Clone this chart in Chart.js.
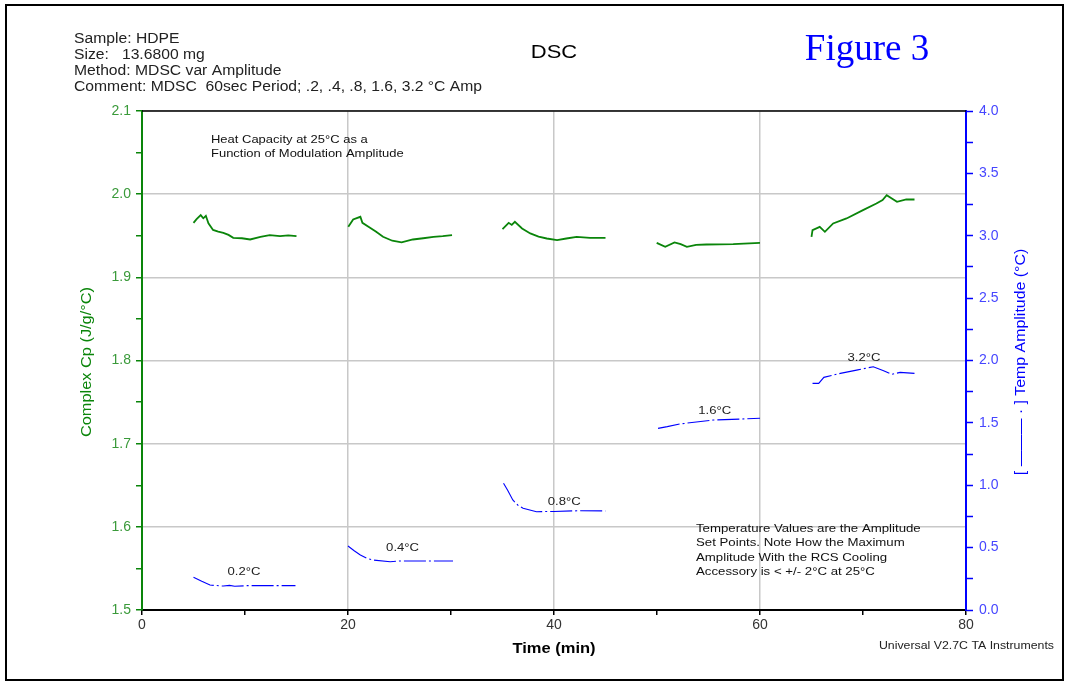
<!DOCTYPE html>
<html>
<head>
<meta charset="utf-8">
<script src="https://cdn.jsdelivr.net/npm/chart.js@4.4.0/dist/chart.umd.min.js"></script>
<style>
  html, body { margin: 0; padding: 0; background: #fff; }
  #wrap { position: relative; width: 1070px; height: 683px; }
  canvas { position: absolute; left: 0; top: 0; }
</style>
</head>
<body>
<div id="wrap"><canvas id="dsc" width="1070" height="683"></canvas></div>
<script>
// Complex Cp (left axis), five runs separated by null
const cpTime = [5.0, 5.3, 5.7, 5.95, 6.2, 6.45, 6.9, 7.4, 7.9, 8.4, 8.86, 9.7, 10.5, 11.5, 12.4, 13.4, 14.2, 15.0, null,
  20.03, 20.5, 21.2, 21.4, 22.1, 22.7, 23.4, 24.3, 25.2, 26.3, 27.3, 28.3, 29.2, 30.1, null,
  35.0, 35.6, 35.9, 36.2, 36.9, 37.7, 38.5, 39.3, 40.3, 41.2, 42.2, 43.5, 45.0, null,
  49.97, 50.8, 51.7, 52.3, 52.9, 53.8, 54.8, 57.4, 60.0, null,
  65.0, 65.1, 65.8, 66.3, 67.1, 68.4, 70.0, 71.3, 71.9, 72.3, 72.8, 73.3, 74.2, 75.0];
const cpValues = [1.9655, 1.970, 1.9748, 1.971, 1.974, 1.965, 1.957, 1.955, 1.9535, 1.951, 1.9475, 1.947, 1.9455, 1.9487, 1.9507, 1.9495, 1.9505, 1.9495, null,
  1.9607, 1.9696, 1.9728, 1.9655, 1.960, 1.955, 1.9487, 1.944, 1.942, 1.9455, 1.947, 1.9487, 1.9495, 1.9507, null,
  1.958, 1.9655, 1.963, 1.9667, 1.9587, 1.9528, 1.949, 1.9467, 1.9447, 1.9467, 1.9487, 1.9475, 1.9475, null,
  1.9415, 1.9367, 1.942, 1.940, 1.9367, 1.939, 1.9395, 1.940, 1.9415, null,
  1.9487, 1.9567, 1.9607, 1.9547, 1.9648, 1.9708, 1.9808, 1.9888, 1.993, 1.9988, 1.9948, 1.9908, 1.9936, 1.9936];

// Temperature amplitude (right axis)
const ampTime = [5.0, 5.8, 6.6, 7.9, 8.5, 9.0, 10.2, 14.9, null,
  20.0, 20.6, 21.2, 21.8, 22.5, 24.1, 25.0, 30.2, null,
  35.1, 35.5, 36.0, 36.5, 37.0, 38.3, 40.0, 42.5, 45.0, null,
  50.1, 51.0, 52.2, 55.5, 58.0, 60.0, null,
  65.1, 65.7, 66.2, 67.8, 69.5, 71.0, 72.0, 72.8, 73.6, 75.0];
const ampValues = [0.262, 0.23, 0.20, 0.192, 0.197, 0.19, 0.195, 0.195, null,
  0.513, 0.475, 0.441, 0.415, 0.40, 0.387, 0.393, 0.393, null,
  1.016, 0.96, 0.882, 0.84, 0.815, 0.788, 0.79, 0.796, 0.794, null,
  1.456, 1.47, 1.491, 1.523, 1.53, 1.537, null,
  1.817, 1.817, 1.865, 1.897, 1.925, 1.95, 1.918, 1.889, 1.905, 1.897];

// amplitude set point labels
const setPointLabels = ['0.2°C', '0.4°C', '0.8°C', '1.6°C', '3.2°C'];
const setPointTime = [9.9, 25.3, 41.0, 55.6, 70.1];
const setPointAmp = [0.305, 0.497, 0.866, 1.595, 2.02];

const xTickLabels = [0, 20, 40, 60, 80];

const GREEN = '#0a850a';
const GREEN_TXT = '#3a9a3a';
const BLUE = '#0000ff';
const BLUE_TXT = '#4646ff';
const GRID = '#c8c8c8';
const FONT = '"Liberation Sans", Arial, sans-serif';

const toPoints = (xs, ys) => xs.map((x, i) => ({ x: x === null ? NaN : x, y: ys[i] }));
const isMajor = (v, step) => Math.abs(Math.round(v / step) * step - v) < 1e-6;

// text drawn a bit wider than the font, like the original plot
function wideText(ctx, text, x, y, sx, align) {
  ctx.save();
  ctx.translate(x, y);
  ctx.scale(sx, 1);
  ctx.textAlign = align || 'left';
  ctx.fillText(text, 0, 0);
  ctx.restore();
}

const decorPlugin = {
  id: 'decor',
  afterDraw(chart) {
    const ctx = chart.ctx;
    const a = chart.chartArea;
    const xs = chart.scales.x;
    const yr = chart.scales.yAmp;
    ctx.save();

    // page frame
    ctx.strokeStyle = '#000';
    ctx.lineWidth = 2;
    ctx.strokeRect(6, 5, 1057, 675);

    // top edge of plot
    ctx.lineWidth = 1.5;
    ctx.beginPath();
    ctx.moveTo(a.left, a.top);
    ctx.lineTo(a.right, a.top);
    ctx.stroke();

    // header
    ctx.fillStyle = '#222';
    ctx.font = '14px ' + FONT;
    ctx.textBaseline = 'middle';
    ['Sample: HDPE', 'Size:   13.6800 mg', 'Method: MDSC var Amplitude',
     'Comment: MDSC  60sec Period; .2, .4, .8, 1.6, 3.2 \u00b0C Amp'].forEach((t, i) => {
      wideText(ctx, t, 74, 39 + i * 16, 1.12);
    });
    ctx.font = '18px ' + FONT;
    ctx.fillStyle = '#000';
    wideText(ctx, 'DSC', 554, 53, 1.22, 'center');
    ctx.font = '37px "Liberation Serif", "Times New Roman", serif';
    ctx.fillStyle = BLUE;
    wideText(ctx, 'Figure 3', 867, 50, 1.0, 'center');

    // notes inside plot
    ctx.font = '11px ' + FONT;
    ctx.fillStyle = '#111';
    wideText(ctx, 'Heat Capacity at 25\u00b0C as a', 211, 140, 1.18);
    wideText(ctx, 'Function of Modulation Amplitude', 211, 154, 1.18);
    ctx.font = '11.5px ' + FONT;
    ['Temperature Values are the Amplitude', 'Set Points. Note How the Maximum',
     'Amplitude With the RCS Cooling', 'Accessory is < +/- 2\u00b0C at 25\u00b0C'].forEach((t, i) => {
      wideText(ctx, t, 696, 529 + i * 14.3, 1.15);
    });

    // set point labels
    ctx.fillStyle = '#222';
    setPointLabels.forEach((t, i) => {
      wideText(ctx, t, xs.getPixelForValue(setPointTime[i]), yr.getPixelForValue(setPointAmp[i]), 1.14, 'center');
    });

    // axis titles
    ctx.save();
    ctx.translate(87, 362);
    ctx.rotate(-Math.PI / 2);
    ctx.font = '15px ' + FONT;
    ctx.fillStyle = GREEN;
    wideText(ctx, 'Complex Cp (J/g/\u00b0C)', 0, 0, 1.09, 'center');
    ctx.restore();

    ctx.save();
    ctx.translate(1021, 362);
    ctx.rotate(-Math.PI / 2);
    ctx.font = '15px ' + FONT;
    ctx.fillStyle = BLUE;
    wideText(ctx, '[ \u2014\u2014\u2014 \u00b7 ] Temp Amplitude (\u00b0C)', 0, 0, 1.06, 'center');
    ctx.restore();

    ctx.font = 'bold 15px ' + FONT;
    ctx.fillStyle = '#000';
    wideText(ctx, 'Time (min)', 554, 649, 1.1, 'center');
    ctx.font = '11px ' + FONT;
    ctx.fillStyle = '#222';
    wideText(ctx, 'Universal V2.7C TA Instruments', 1054, 646, 1.12, 'right');

    ctx.restore();
  }
};

new Chart(document.getElementById('dsc'), {
  type: 'line',
  data: {
    datasets: [
      {
        label: 'Complex Cp',
        data: toPoints(cpTime, cpValues),
        yAxisID: 'yCp',
        borderColor: GREEN,
        borderWidth: 1.8,
        pointRadius: 0,
        tension: 0,
        spanGaps: false
      },
      {
        label: 'Temp Amplitude',
        data: toPoints(ampTime, ampValues),
        yAxisID: 'yAmp',
        borderColor: BLUE,
        borderWidth: 1.1,
        borderDash: [22, 3, 2, 3],
        pointRadius: 0,
        tension: 0,
        spanGaps: false
      }
    ]
  },
  options: {
    responsive: false,
    animation: false,
    layout: { padding: { left: 0, right: 0, top: 111, bottom: 0 } },
    plugins: { legend: { display: false }, tooltip: { enabled: false } },
    scales: {
      x: {
        type: 'linear',
        min: 0,
        max: 80,
        afterFit: s => { s.height = 73; },
        afterBuildTicks: s => { s.ticks = []; for (let v = 0; v <= 80; v += 10) s.ticks.push({ value: v }); },
        ticks: {
          color: '#333',
          font: { family: FONT, size: 14 },
          padding: 2,
          maxRotation: 0,
          autoSkip: false,
          callback: v => xTickLabels.includes(v) ? String(v) : ''
        },
        grid: {
          color: c => (c.tick && c.tick.value % 20 === 0 && c.tick.value > 0 && c.tick.value < 80) ? GRID : 'rgba(0,0,0,0)',
          lineWidth: 1.5,
          tickColor: '#000',
          tickLength: 5,
          tickWidth: 1.5
        },
        border: { color: '#000', width: 2 }
      },
      yCp: {
        position: 'left',
        min: 1.5,
        max: 2.1,
        afterFit: s => { s.width = 142; },
        ticks: {
          stepSize: 0.05,
          color: GREEN_TXT,
          font: { family: FONT, size: 14 },
          padding: 5,
          autoSkip: false,
          callback: v => isMajor(v, 0.1) ? v.toFixed(1) : ''
        },
        grid: {
          color: c => (c.tick && isMajor(c.tick.value, 0.1)) ? GRID : 'rgba(0,0,0,0)',
          lineWidth: 1.5,
          tickColor: GREEN,
          tickLength: 6,
          tickWidth: 1.5
        },
        border: { color: GREEN, width: 2 }
      },
      yAmp: {
        position: 'right',
        min: 0,
        max: 4,
        afterFit: s => { s.width = 104; },
        ticks: {
          stepSize: 0.25,
          color: BLUE_TXT,
          font: { family: FONT, size: 14 },
          padding: 6,
          autoSkip: false,
          callback: v => isMajor(v, 0.5) ? v.toFixed(1) : ''
        },
        grid: {
          drawOnChartArea: false,
          tickColor: BLUE,
          tickLength: 7,
          tickWidth: 1.5
        },
        border: { color: BLUE, width: 2 }
      }
    }
  },
  plugins: [decorPlugin]
});
</script>
</body>
</html>
